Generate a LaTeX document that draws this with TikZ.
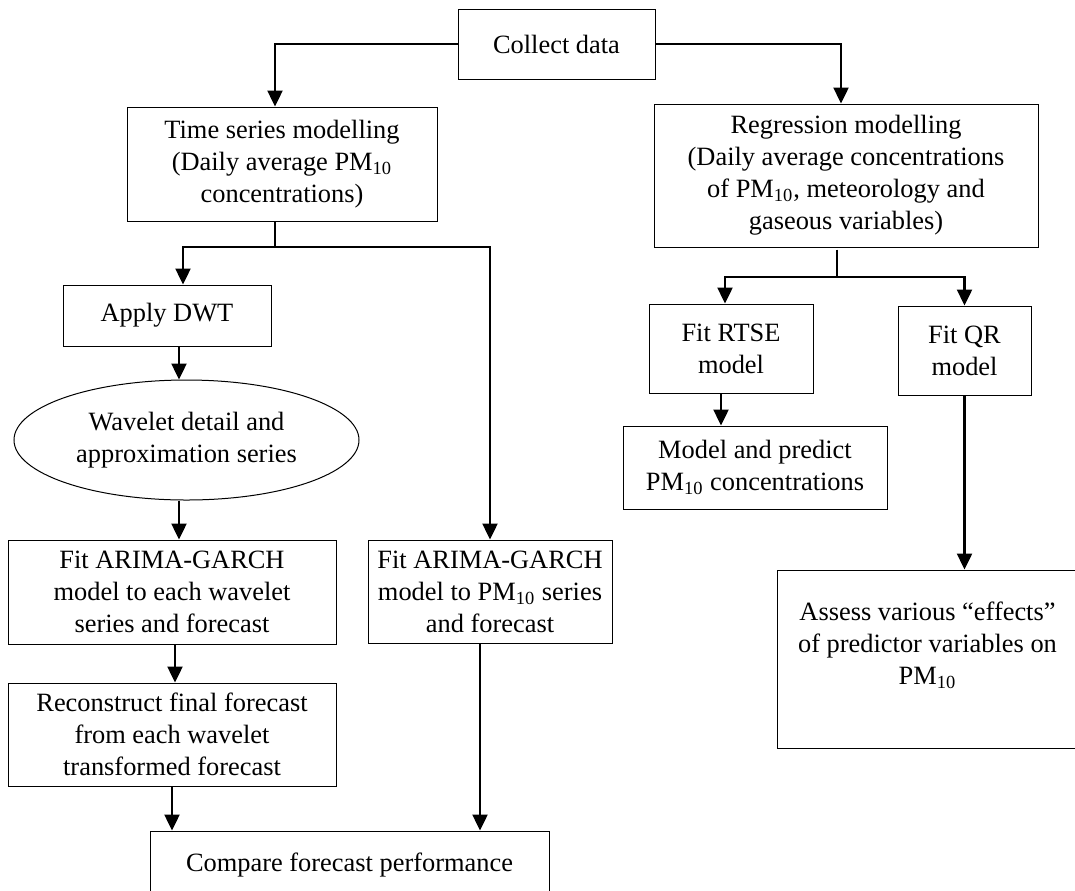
\documentclass[tikz,border=0pt]{standalone}
\usepackage{fontspec}
\setmainfont{Liberation Serif}
\usetikzlibrary{%
    shapes.geometric,%
    arrows.meta,%
    calc%
}
\tikzset{
    block/.style = {draw = black, line width = 0.5pt, align = center, inner sep = 0pt, font = \fontsize{13.2}{16}\selectfont},
    link/.style = {line width = 1.2pt},
    flow/.style = {link, -{Triangle[width = 7.5pt, length = 8pt]}}
}

\begin{document}
\begin{tikzpicture}[x = 0.5pt, y = -0.5pt]
    % Page frame
    \clip (0,0) rectangle (1075,890);

    % Define the boxes of the time series branch
    \node[block, minimum width = 98.5pt, minimum height = 35pt] (collect) at (556.5,44) {Collect data};
    \node[block, minimum width = 155pt, minimum height = 57pt] (ts) at (282,164) {Time series modelling\\(Daily average PM\textsubscript{10}\\concentrations)};
    \node[block, minimum width = 104pt, minimum height = 30.5pt] (dwt) at (167,315.5) {Apply DWT};
    \node[block, ellipse, minimum width = 172.5pt, minimum height = 60pt] (wave) at (186.5,440) {Wavelet detail and\\approximation series};
    \node[block, minimum width = 164pt, minimum height = 52pt] (fit1) at (172,592) {Fit ARIMA-GARCH\\model to each wavelet\\series and forecast};
    \node[block, minimum width = 122pt, minimum height = 51.5pt] (fit2) at (490,591.5) {Fit ARIMA-GARCH\\model to PM\textsubscript{10} series\\and forecast};
    \node[block, minimum width = 164pt, minimum height = 51.5pt] (rec) at (172,734.5) {Reconstruct final forecast\\from each wavelet\\transformed forecast};
    \node[block, minimum width = 199.5pt, minimum height = 34pt] (cmp) at (349.5,865) {Compare forecast performance};

    % Define the boxes of the regression branch
    \node[block, minimum width = 192pt, minimum height = 71.5pt] (reg) at (846,175.5) {Regression modelling\\(Daily average concentrations\\of PM\textsubscript{10}, meteorology and\\gaseous variables)};
    \node[block, minimum width = 82pt, minimum height = 44.5pt] (rtse) at (731,348.5) {Fit RTSE\\model};
    \node[block, minimum width = 66.5pt, minimum height = 44.5pt] (qr) at (964.5,350.5) {Fit QR\\model};
    \node[block, minimum width = 132pt, minimum height = 41.5pt] (model) at (755,467.5) {Model and predict\\PM\textsubscript{10} concentrations};
    \node[block, minimum width = 150.5pt, minimum height = 89pt] (assess) at (927.5,659) {Assess various ``effects''\\of predictor variables on\\PM\textsubscript{10}\\\mbox{}};

    % Draw the connectors
    \draw[flow] (collect.west) -| ([xshift = -3.5pt]ts.north);
    \draw[flow] (collect.east) -| ([xshift = -2.5pt]reg.north);
    \coordinate (tsfork) at (275,247);
    \draw[link] ([xshift = -3.5pt]ts.south) -- (tsfork);
    \draw[flow] (tsfork) -| ([xshift = 8pt]dwt.north);
    \draw[flow] (tsfork) -| (fit2.north);
    \draw[flow] ([xshift = 6pt]dwt.south) -- ([xshift = 6pt]dwt.south |- wave.north);
    \draw[flow] ([xshift = 3.5pt]fit1.north |- wave.south) -- ([xshift = 3.5pt]fit1.north);
    \draw[flow] ([xshift = 1.5pt]fit1.south) -- ([xshift = 1.5pt]rec.north);
    \draw[flow] (rec.south) -- (rec.south |- cmp.north);
    \draw[flow] ([xshift = -5pt]fit2.south) -- ([xshift = -5pt]fit2.south |- cmp.north);
    \coordinate (regfork) at (837,277);
    \draw[link] ([xshift = -4.5pt, yshift = -1pt]reg.south) -- (regfork);
    \draw[flow] (regfork) -| ([xshift = -3pt]rtse.north);
    \draw[flow] (regfork) -| (qr.north);
    \draw[flow] ([xshift = -5pt]rtse.south) -- ([xshift = -5pt]rtse.south |- model.north);
    \draw[flow] (qr.south) -- (qr.south |- assess.north);
\end{tikzpicture}
\end{document}
